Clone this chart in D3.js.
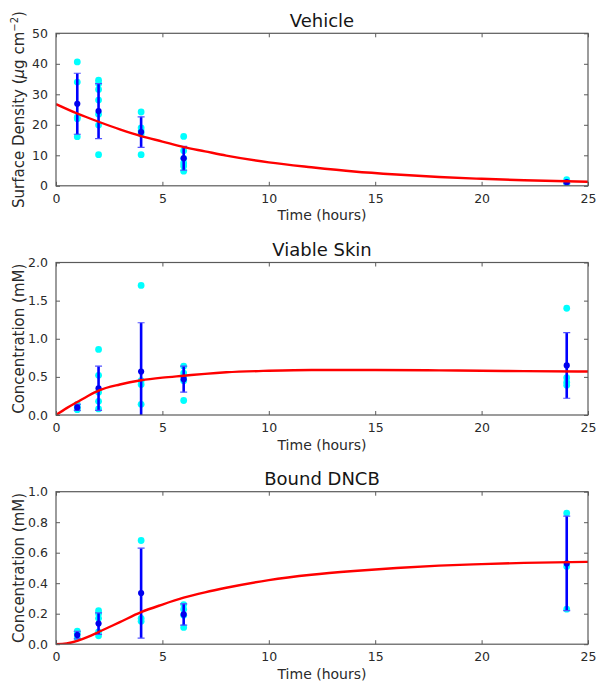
<!DOCTYPE html>
<html><head><meta charset="utf-8">
<script src="https://cdn.jsdelivr.net/npm/d3@7"></script>
<style>body{margin:0;background:#fff}svg{display:block}text{font-family:"DejaVu Sans",sans-serif}</style>
</head><body><svg id="c" width="597" height="685"></svg>
<script>
const timePoints = [1, 2, 4, 6, 24];
const xTicks = [0, 5, 10, 15, 20, 25];

const vehicleRaw = [[40.6,34.0,22.5,22.0,16.1],[34.6,33.5,31.6,28.1,23.5,19.9,10.2],[24.2,19.0,18.0,17.0,10.2],[16.2,11.5,9.0,7.5,6.5,4.8],[2.0,1.2,0.8]];
const vehicleMean = [26.9, 24.5, 17.6, 9.0, 1.2];
const vehicleSd = [10.0, 9.0, 5.0, 3.9, 0.5];
const vehicleTicks = [0, 10, 20, 30, 40, 50];
const vehicleCurveT = [0,1,2,3,4,5,6,7,8,10,12,14,16,18,20,22,25];
const vehicleCurve = [26.8,23.7,21.0,18.5,16.3,14.5,12.7,11.3,9.9,7.7,6.1,4.7,3.7,2.9,2.3,1.8,1.3];

const viableRaw = [[0.14,0.10,0.07],[0.86,0.52,0.30,0.18,0.08],[1.70,0.45,0.40,0.14],[0.64,0.55,0.50,0.45,0.19],[1.40,0.49,0.43,0.39]];
const viableMean = [0.10, 0.35, 0.57, 0.47, 0.65];
const viableSd = [0.04, 0.29, 0.64, 0.17, 0.43];
const viableTicks = [0, 0.5, 1.0, 1.5, 2.0];
const viableCurveT = [0,0.5,1,1.5,2,3,4,5,6,7,8,10,12,15,18,20,22,25];
const viableCurve = [0,0.09,0.17,0.25,0.32,0.40,0.455,0.49,0.515,0.54,0.56,0.58,0.59,0.59,0.585,0.58,0.575,0.57];

const boundRaw = [[0.085,0.07,0.04],[0.22,0.20,0.17,0.08,0.055],[0.68,0.17,0.15],[0.26,0.23,0.19,0.11],[0.86,0.51,0.23]];
const boundMean = [0.06, 0.135, 0.335, 0.195, 0.53];
const boundSd = [0.025, 0.07, 0.295, 0.07, 0.31];
const boundTicks = [0, 0.2, 0.4, 0.6, 0.8, 1.0];
const boundCurveT = [0,0.5,1,1.5,2,3,4,5,6,7,8,10,12,14,16,18,20,22,25];
const boundCurve = [0,0.005,0.022,0.048,0.08,0.145,0.21,0.26,0.305,0.34,0.37,0.42,0.455,0.48,0.50,0.515,0.525,0.533,0.54];

const panels = [
  {title:"Vehicle", raw:vehicleRaw, mean:vehicleMean, sd:vehicleSd, ticks:vehicleTicks, ymax:50, fmt:d3.format("d"), ct:vehicleCurveT, cv:vehicleCurve, ylab:"vehicle"},
  {title:"Viable Skin", raw:viableRaw, mean:viableMean, sd:viableSd, ticks:viableTicks, ymax:2.0, fmt:d3.format(".1f"), ct:viableCurveT, cv:viableCurve, ylab:"Concentration (mM)"},
  {title:"Bound DNCB", raw:boundRaw, mean:boundMean, sd:boundSd, ticks:boundTicks, ymax:1.0, fmt:d3.format(".1f"), ct:boundCurveT, cv:boundCurve, ylab:"Concentration (mM)"}
];

const svg = d3.select("#c");
const L = 56, R = 588, H = 152.5;
const tops = [33.3, 262.5, 491.7];
const x = d3.scaleLinear().domain([0,25]).range([L,R]);
const txt = "#2a2a2a", frame = "#5a5a5a";

panels.forEach((p,i)=>{
  const top = tops[i], bot = top + H;
  const y = d3.scaleLinear().domain([0,p.ymax]).range([bot, top]);
  const g = svg.append("g");
  const cid = "clip"+i;
  svg.append("clipPath").attr("id",cid).append("rect").attr("x",L).attr("y",top).attr("width",R-L).attr("height",H);
  const pg = g.append("g").attr("clip-path",`url(#${cid})`);

  p.raw.forEach((arr,j)=>{
    pg.selectAll(null).data(arr).enter().append("circle")
      .attr("cx", x(timePoints[j])).attr("cy", d=>y(d)).attr("r",3.4).attr("fill","#00ffff");
  });
  timePoints.forEach((t,j)=>{
    const m = p.mean[j], s = p.sd[j];
    pg.append("line").attr("x1",x(t)).attr("x2",x(t)).attr("y1",y(m-s)).attr("y2",y(m+s))
      .attr("stroke","#0000ff").attr("stroke-width",2.6);
    [m-s, m+s].forEach(v=>{
      pg.append("line").attr("x1",x(t)-3.5).attr("x2",x(t)+3.5).attr("y1",y(v)).attr("y2",y(v))
        .attr("stroke","#5050ff").attr("stroke-width",1.2);
    });
    pg.append("circle").attr("cx",x(t)).attr("cy",y(m)).attr("r",3.1).attr("fill","#0000ee");
  });
  const line = d3.line().x((d,k)=>x(p.ct[k])).y(d=>y(d)).curve(d3.curveMonotoneX);
  pg.append("path").attr("d", line(p.cv)).attr("fill","none").attr("stroke","#ff0000").attr("stroke-width",2.4);

  const axB = d3.axisBottom(x).tickValues(xTicks).tickSizeInner(-4).tickSizeOuter(0).tickPadding(8).tickFormat(d3.format("d"));
  const axT = d3.axisTop(x).tickValues(xTicks).tickSizeInner(-4).tickSizeOuter(0).tickFormat("");
  const axL = d3.axisLeft(y).tickValues(p.ticks).tickSizeInner(-4).tickSizeOuter(0).tickPadding(8).tickFormat(p.fmt);
  const axR = d3.axisRight(y).tickValues(p.ticks).tickSizeInner(-4).tickSizeOuter(0).tickFormat("");
  const gb = g.append("g").attr("transform",`translate(0,${bot})`).call(axB);
  const gt = g.append("g").attr("transform",`translate(0,${top})`).call(axT);
  const gl = g.append("g").attr("transform",`translate(${L},0)`).call(axL);
  const gr = g.append("g").attr("transform",`translate(${R},0)`).call(axR);
  [gb,gt,gl,gr].forEach(a=>{
    a.select(".domain").remove();
    a.selectAll(".tick line").attr("stroke",frame);
    a.selectAll(".tick text").attr("fill",txt).style("font-size","12.5px").style("font-family","DejaVu Sans");
  });
  g.append("rect").attr("x",L).attr("y",top).attr("width",R-L).attr("height",H)
    .attr("fill","none").attr("stroke",frame).attr("stroke-width",1.2);

  g.append("text").attr("x",(L+R)/2).attr("y",top-6.6).attr("text-anchor","middle")
    .attr("fill","#151515").style("font-size","18px").text(p.title);
  g.append("text").attr("x",(L+R)/2).attr("y",bot+34.5).attr("text-anchor","middle")
    .attr("fill",txt).style("font-size","14px").text("Time (hours)");
  const yl = g.append("text").attr("transform",`translate(24,${(top+bot)/2}) rotate(-90)`)
    .attr("text-anchor","middle").attr("fill",txt).style("font-size","15px");
  if (p.ylab === "vehicle") {
    yl.append("tspan").text("Surface Density (");
    yl.append("tspan").style("font-style","italic").text("\u03bc");
    yl.append("tspan").text("g cm");
    yl.append("tspan").attr("dy",-6).style("font-size","10px").text("\u22122");
    yl.append("tspan").attr("dy",6).text(")");
  } else {
    yl.text(p.ylab);
  }
});
</script></body></html>
